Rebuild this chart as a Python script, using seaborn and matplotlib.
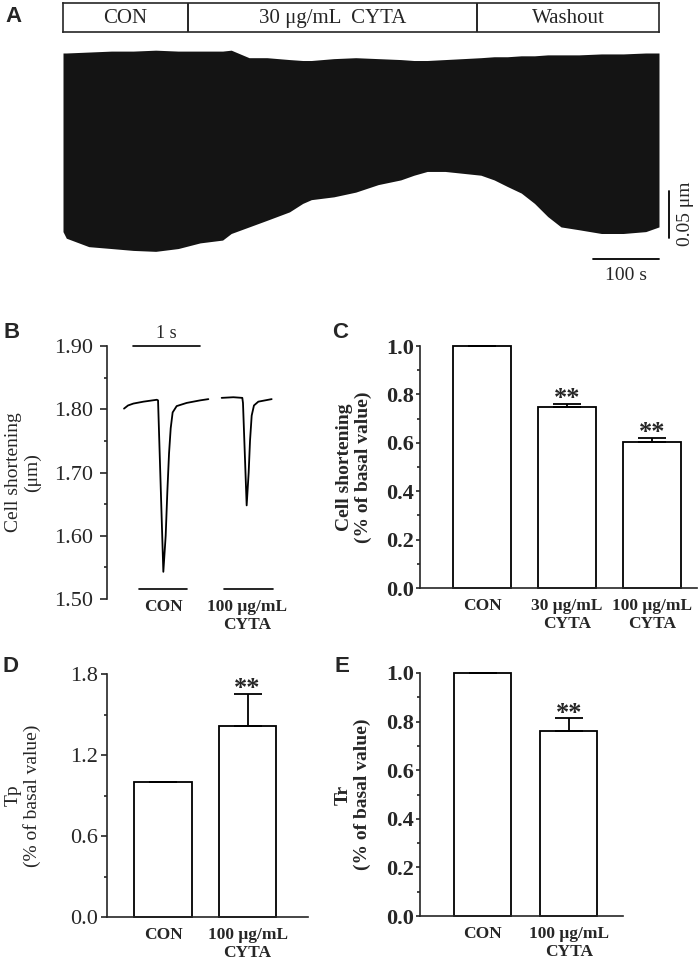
import matplotlib
matplotlib.use("Agg")
import matplotlib.pyplot as plt
import numpy as np
import pandas as pd
import seaborn as sns
from matplotlib.ticker import MultipleLocator, FormatStrFormatter

# panel A: envelope of the continuous recording (s, um)
phase_names = ["CON", "30 μg/mL  CYTA", "Washout"]
phase_edges = [0, 189, 625, 900]
rec_t = [0, 5, 39, 73, 106, 140, 174, 207, 241, 254, 281, 308, 342, 362, 375, 409, 442,
         476, 510, 530, 550, 577, 604, 631, 651, 671, 692, 712, 732, 752, 779, 813, 846, 880, 900]
rec_low = [1.630, 1.623, 1.614, 1.612, 1.610, 1.609, 1.612, 1.618, 1.621, 1.628, 1.635, 1.642,
           1.651, 1.660, 1.664, 1.667, 1.672, 1.680, 1.685, 1.690, 1.694, 1.694, 1.692, 1.690,
           1.685, 1.678, 1.671, 1.660, 1.646, 1.635, 1.632, 1.628, 1.628, 1.630, 1.635]
rec_high = [1.820, 1.820, 1.821, 1.822, 1.822, 1.823, 1.822, 1.822, 1.822, 1.823, 1.815, 1.815,
            1.813, 1.812, 1.812, 1.814, 1.815, 1.814, 1.813, 1.812, 1.812, 1.813, 1.814, 1.815,
            1.816, 1.816, 1.817, 1.817, 1.818, 1.818, 1.818, 1.819, 1.819, 1.820, 1.820]

# panel B: single twitches (s, um)
con_t = [0.0, 0.06, 0.14, 0.29, 0.49, 0.508, 0.587, 0.622, 0.647, 0.672, 0.697, 0.726,
         0.786, 0.935, 1.134, 1.259]
con_len = [1.801, 1.806, 1.809, 1.812, 1.815, 1.814, 1.543, 1.60, 1.67, 1.73, 1.77, 1.795,
           1.805, 1.810, 1.814, 1.816]
cyta_t = [1.458, 1.632, 1.766, 1.776, 1.831, 1.861, 1.881, 1.906, 1.940, 2.005, 2.204]
cyta_len = [1.818, 1.819, 1.818, 1.81, 1.648, 1.70, 1.75, 1.79, 1.806, 1.812, 1.816]
twitch_labels = ["CON", "100 μg/mL\nCYTA"]

# panels C-E: normalised values, mean and SEM
c_labels = ["CON", "30 μg/mL\nCYTA", "100 μg/mL\nCYTA"]
c_mean = [1.0, 0.748, 0.602]
c_sem = [0.0, 0.014, 0.018]
c_sig = ["", "**", "**"]

d_labels = ["CON", "100 μg/mL\nCYTA"]
d_mean = [1.0, 1.417]
d_sem = [0.0, 0.237]
d_sig = ["", "**"]

e_labels = ["CON", "100 μg/mL\nCYTA"]
e_mean = [1.0, 0.761]
e_sem = [0.0, 0.052]
e_sig = ["", "**"]

sns.set_style("ticks")
plt.rcParams["font.family"] = ["Liberation Serif", "DejaVu Serif"]
plt.rcParams["axes.linewidth"] = 1.2
plt.rcParams["xtick.major.width"] = 1.2
plt.rcParams["ytick.major.width"] = 1.2
plt.rcParams["ytick.minor.width"] = 1.2

W, H = 699, 965
fig = plt.figure(figsize=(W / 100, H / 100), dpi=100)


def px_axes(left, top, right, bottom):
    return fig.add_axes([left / W, 1 - bottom / H, (right - left) / W, (bottom - top) / H])


def panel_letter(x, y, s):
    fig.text(x / W, 1 - y / H, s, fontsize=16, fontweight="bold",
             family="Liberation Sans", ha="center", va="center")


# ---------- A ----------
ax_h = px_axes(63, 3, 659, 32)
ax_h.set_xlim(phase_edges[0], phase_edges[-1])
ax_h.set_ylim(0, 1)
for e in phase_edges[1:-1]:
    ax_h.axvline(e, color="black", lw=1.2)
for i, name in enumerate(phase_names):
    ax_h.text((phase_edges[i] + phase_edges[i + 1]) / 2, 0.46, name, ha="center",
              va="center", fontsize=15)
ax_h.set_xticks([])
ax_h.set_yticks([])

ax_a = px_axes(63, 45, 699, 290)
ax_a.fill_between(rec_t, rec_low, rec_high, color="#141414", lw=0)
ax_a.set_xlim(0, 960.4)
ax_a.set_ylim(1.5679, 1.8285)
ax_a.axis("off")
# scale bars
ax_a.plot([800, 900], [1.6009, 1.6009], color="black", lw=1.3)
ax_a.text(850, 1.5828, "100 s", ha="center", va="center", fontsize=14)
ax_a.plot([915, 915], [1.6235, 1.6735], color="black", lw=1.3)
ax_a.text(940, 1.6485, "0.05 μm", rotation=90, ha="center", va="center", fontsize=14)
panel_letter(14, 17, "A")

# ---------- B ----------
ax_b = px_axes(107, 346, 290, 599)
sns.lineplot(x=con_t, y=con_len, ax=ax_b, color="black", lw=1.3, estimator=None, sort=False)
sns.lineplot(x=cyta_t, y=cyta_len, ax=ax_b, color="black", lw=1.3, estimator=None, sort=False)
ax_b.set_xlim(-0.254, 2.478)
ax_b.set_ylim(1.50, 1.90)
ax_b.yaxis.set_major_locator(MultipleLocator(0.1))
ax_b.yaxis.set_minor_locator(MultipleLocator(0.05))
ax_b.yaxis.set_major_formatter(FormatStrFormatter("%.2f"))
ax_b.tick_params(axis="y", which="major", length=5, labelsize=16, pad=5)
ax_b.tick_params(axis="y", which="minor", length=2.5)
peaks = [con_t[int(np.argmin(con_len))], cyta_t[int(np.argmin(cyta_len))]]
ax_b.set_xticks(peaks)
ax_b.set_xticklabels(twitch_labels, fontsize=12.5, fontweight="bold", linespacing=1.2)
ax_b.tick_params(axis="x", length=0, pad=0)
for side in ["top", "right", "bottom"]:
    ax_b.spines[side].set_visible(False)
ax_b.plot([con_t[0] + 0.134, con_t[0] + 1.134], [1.90, 1.90], color="black", lw=1.2, clip_on=False)
ax_b.annotate("1 s", (con_t[0] + 0.634, 1.90), xytext=(0, 3), textcoords="offset points",
              ha="center", va="bottom", fontsize=13)
ax_b.plot([0.224, 0.94], [1.516, 1.516], color="black", lw=1.2)
ax_b.plot([1.49, 2.22], [1.516, 1.516], color="black", lw=1.2)
ax_b.set_ylabel("Cell shortening\n(μm)", fontsize=14, linespacing=1.13, va="center")
ax_b.yaxis.set_label_coords((23 - 107) / 183, 0.5)
panel_letter(12, 332, "B")


# ---------- bar panels ----------
def bar_panel(ax, labels, means, sems, sig, width, ymax, major, minor, bold, ylabel, lab_x,
              tick_len, tick_pad):
    df = pd.DataFrame({"group": labels, "value": means})
    sns.barplot(data=df, x="group", y="value", color="white", edgecolor="black",
                linewidth=1.3, width=width, saturation=1, ax=ax)
    for p in ax.patches:
        p.set_clip_on(False)
    pos = np.arange(len(means))
    ax.errorbar(pos, means, yerr=[np.zeros(len(sems)), sems], fmt="none", ecolor="black",
                elinewidth=1.3, capsize=10, capthick=1.3, zorder=4, clip_on=False)
    for i, s in enumerate(sig):
        if s:
            ax.annotate(s, (i, means[i] + sems[i]), xytext=(0, -4.5), textcoords="offset points",
                        ha="center", va="bottom", fontsize=19, fontweight="bold")
    ax.set_ylim(0, ymax)
    ax.yaxis.set_major_locator(MultipleLocator(major))
    ax.yaxis.set_minor_locator(MultipleLocator(minor))
    ax.yaxis.set_major_formatter(FormatStrFormatter("%.1f"))
    w = "bold" if bold else "normal"
    ax.tick_params(axis="y", which="major", length=tick_len, labelsize=16, pad=tick_pad)
    ax.tick_params(axis="y", which="minor", length=2)
    for t in ax.get_yticklabels():
        t.set_fontweight(w)
    ax.set_xticks(pos)
    ax.set_xticklabels(labels, fontsize=12.5, fontweight="bold", linespacing=1.2)
    ax.tick_params(axis="x", length=0, pad=7)
    ax.set_xlabel("")
    for side in ["top", "right"]:
        ax.spines[side].set_visible(False)
    ax.set_ylabel(ylabel, fontsize=14, fontweight=w, linespacing=1.13, va="center")
    ax.yaxis.set_label_coords(lab_x, 0.5)


ax_c = px_axes(420, 346, 697, 588)
bar_panel(ax_c, c_labels, c_mean, c_sem, c_sig, 0.68, 1.0, 0.2, 0.1, True,
          "Cell shortening\n(% of basal value)", (354 - 420) / 277, 3, 1.5)
ax_c.set_xlim(-0.733, 2.53)
panel_letter(340, 332, "C")

ax_d = px_axes(107, 674, 308, 917)
bar_panel(ax_d, d_labels, d_mean, d_sem, d_sig, 0.686, 1.8, 0.6, 0.3, False,
          "Tp\n(% of basal value)", (23 - 107) / 201, 4, 2.5)
ax_d.set_xlim(-0.663, 1.716)
panel_letter(11, 667, "D")

ax_e = px_axes(420, 673, 623, 916)
bar_panel(ax_e, e_labels, e_mean, e_sem, e_sig, 0.663, 1.0, 0.2, 0.1, True,
          "Tr\n(% of basal value)", (353 - 420) / 203, 3, 1.5)
ax_e.set_xlim(-0.727, 1.63)
panel_letter(342, 667, "E")

fig.savefig("out.png", dpi=100)
